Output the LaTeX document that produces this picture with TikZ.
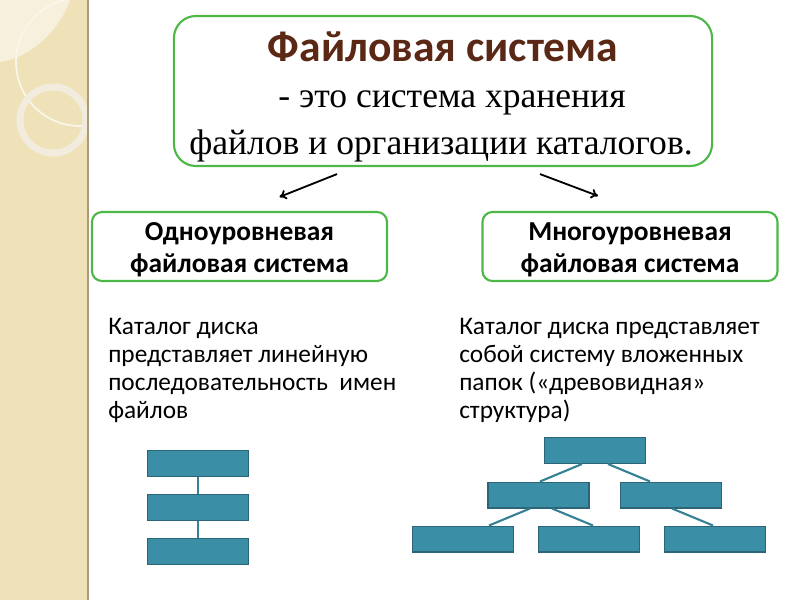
\documentclass[tikz,border=0pt]{standalone}
\usepackage{fontspec}
\setmainfont{Liberation Serif}
\newfontfamily\sansru{Carlito}
\usetikzlibrary{calc,arrows.meta}

\definecolor{framegreen}{HTML}{4DB848}
\definecolor{titlebrown}{HTML}{5A2814}
\definecolor{folderteal}{HTML}{3A8FA6}
\definecolor{folderedge}{HTML}{2B6577}
\definecolor{stripbeige}{HTML}{EFE2B9}
\definecolor{stripedge}{HTML}{A89A78}

\tikzset{
  greenbox/.style={draw=framegreen, line width=1.5pt, fill=white, rounded corners=0.25cm},
  subbox/.style={greenbox, minimum width=7.375cm, minimum height=1.725cm},
  subtext/.style={align=center, inner sep=0pt,
    font=\sansru\bfseries\fontsize{19.5}{22.5}\selectfont},
  para/.style={align=left, anchor=north west, inner sep=0pt,
    font=\sansru\fontsize{18}{20}\selectfont},
  serifline/.style={font=\fontsize{25.3}{30}\selectfont, inner sep=0pt},
  folder/.style={draw=folderedge, fill=folderteal, line width=1pt,
    minimum width=2.525cm, minimum height=0.64cm, inner sep=0pt},
  link/.style={draw=folderteal!90!black, line width=1.5pt},
  pointer/.style={-{To[length=5pt,width=7pt]}, line width=1.3pt},
}

\begin{document}
\begin{tikzpicture}[x=0.025cm, y=-0.025cm]
  \useasboundingbox (0,0) rectangle (800,600);
  % faixa decorativa a esquerda
  \begin{scope}
    \clip (0,0) rectangle (88,600);
    \fill[stripbeige] (0,0) rectangle (88,600);
    \fill[white!50!stripbeige] (0,0) -- (0,62) .. controls (30,58) and (60,30) .. (70,0) -- cycle;
    \draw[white!70!stripbeige, line width=1.2pt] (80,62) circle (64);
    \draw[black!8!stripbeige!40!white, line width=5pt] (53,120) circle (33);
  \end{scope}
  \draw[stripedge, line width=1pt] (88,0) -- (88,600);

  % quadro principal com a definicao
  \node[greenbox, rounded corners=0.55cm, minimum width=13.45cm, minimum height=3.75cm]
    (main) at (443,91) {};
  \node[font=\sansru\bfseries\fontsize{31}{36}\selectfont, text=titlebrown, inner sep=0pt]
    (ttl) at (443,47) {Файловая система};
  \node[serifline] (def1) at (452,103) {- это система хранения};
  \node[serifline] (def2) at (441,146) {файлов и организации каталогов.};

  % dois tipos de sistema
  \node[subbox] (one) at (239.5,246.5) {};
  \node[subbox] (multi) at (630,246.5) {};
  \node[subtext] (onelbl) at ($(one)+(0,3)$) {Одноуровневая\\файловая система};
  \node[subtext] (multilbl) at ($(multi)+(0,3)$) {Многоуровневая\\файловая система};
  \draw[pointer] ($(main.south)+(-106,7)$) -- ($(one.north)+(40,-14)$);
  \draw[pointer] ($(main.south)+(97,7)$) -- ($(multi.north)+(-32,-15)$);

  % descricoes
  \node[para] (onetxt) at (108,318) {Каталог диска\\представляет линейную\\последовательность~ имен\\файлов};
  \node[para] (multitxt) at (459,318) {Каталог диска представляет\\собой систему вложенных\\папок («древовидная»\\структура)};

  % catalogo linear
  \node[folder] (f1) at (198,463.5) {};
  \node[folder] (f2) at (198,507.5) {};
  \node[folder] (f3) at (198,551.5) {};
  \draw[link] (f1) -- (f2);
  \draw[link] (f2) -- (f3);

  % arvore de pastas
  \node[folder] (root) at (595,450.5) {};
  \node[folder] (midl) at (538.5,495) {};
  \node[folder] (midr) at (671,495) {};
  \node[folder] (leafa) at (463,539) {};
  \node[folder] (leafb) at (589,539) {};
  \node[folder] (leafc) at (715,539) {};
  \draw[link] ($(root.south)+(-13,0)$) -- ($(midl.north)+(1.5,0)$);
  \draw[link] ($(root.south)+(13,0)$) -- ($(midr.north)+(-21,0)$);
  \draw[link] ($(midl.south)+(-8.5,0)$) -- ($(leafa.north)+(26,0)$);
  \draw[link] ($(midl.south)+(13.5,0)$) -- ($(leafb.north)+(4,0)$);
  \draw[link] ($(midr.south)+(1,0)$) -- ($(leafc.north)+(-2,0)$);
\end{tikzpicture}
\end{document}
